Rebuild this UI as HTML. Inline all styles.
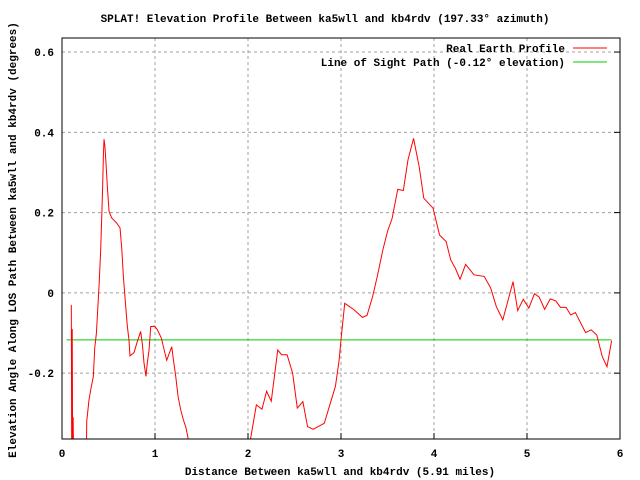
<!DOCTYPE html>
<html><head><meta charset="utf-8"><style>
body{margin:0;background:#fff}
svg{display:block}
text{font-family:"Liberation Mono",monospace;font-size:11px;font-weight:bold;fill:#000}
</style></head><body>
<svg id="c" width="640" height="480">
<text x="325" y="22" text-anchor="middle">SPLAT! Elevation Profile Between ka5wll and kb4rdv (197.33° azimuth)</text>
<text x="340" y="475" text-anchor="middle">Distance Between ka5wll and kb4rdv (5.91 miles)</text>
<text transform="translate(16,240) rotate(-90)" text-anchor="middle">Elevation Angle Along LOS Path Between ka5wll and kb4rdv (degrees)</text>
<g id="grid"></g><g id="ticks"></g>
<defs><clipPath id="clip"><rect x="62" y="38" width="558" height="401"/></clipPath></defs>
<g id="series" clip-path="url(#clip)"></g>
<rect x="62" y="38" width="558" height="401" fill="none" stroke="#000" stroke-width="1"/>
<g>
<text x="565" y="52" text-anchor="end">Real Earth Profile</text>
<line x1="573" y1="48" x2="607" y2="48" stroke="#f00"/>
<text x="565" y="66" text-anchor="end">Line of Sight Path (-0.12° elevation)</text>
<line x1="573" y1="62" x2="607" y2="62" stroke="#0c0"/>
</g>
</svg>
<script>
const profileDist=[0.10,0.105,0.11,0.115,0.12,0.125,0.26,0.266,0.29,0.31,0.337,0.352,0.37,0.40,0.416,0.427,0.437,0.445,0.452,0.462,0.473,0.49,0.506,0.534,0.588,0.624,0.642,0.66,0.685,0.703,0.72,0.731,0.774,0.81,0.846,0.865,0.882,0.903,0.917,0.936,0.954,0.997,1.026,1.069,1.09,1.126,1.18,1.198,1.223,1.248,1.276,1.305,1.333,1.355,1.40,2.0,2.03,2.09,2.15,2.20,2.25,2.32,2.36,2.42,2.48,2.53,2.59,2.64,2.70,2.82,2.89,2.94,2.98,3.0,3.04,3.14,3.23,3.28,3.34,3.39,3.45,3.50,3.55,3.61,3.67,3.72,3.78,3.84,3.89,3.99,4.06,4.13,4.18,4.23,4.28,4.34,4.43,4.54,4.61,4.67,4.74,4.85,4.90,4.96,5.02,5.08,5.13,5.19,5.25,5.31,5.36,5.42,5.47,5.52,5.63,5.69,5.75,5.81,5.86,5.91];
const profileAngle=[-0.03,-0.45,-0.09,-0.45,-0.31,-0.45,-0.45,-0.32,-0.267,-0.24,-0.208,-0.137,-0.10,0.025,0.107,0.187,0.264,0.343,0.383,0.364,0.323,0.256,0.203,0.187,0.174,0.162,0.112,0.041,-0.034,-0.084,-0.117,-0.157,-0.149,-0.121,-0.096,-0.13,-0.175,-0.208,-0.175,-0.142,-0.084,-0.083,-0.092,-0.113,-0.134,-0.168,-0.134,-0.167,-0.208,-0.258,-0.291,-0.316,-0.336,-0.361,-0.45,-0.45,-0.36,-0.279,-0.29,-0.245,-0.27,-0.142,-0.154,-0.154,-0.2,-0.287,-0.271,-0.333,-0.34,-0.325,-0.271,-0.233,-0.167,-0.117,-0.026,-0.042,-0.061,-0.056,-0.009,0.041,0.107,0.153,0.186,0.258,0.255,0.331,0.385,0.315,0.236,0.211,0.144,0.128,0.082,0.061,0.034,0.071,0.045,0.041,0.012,-0.034,-0.067,0.028,-0.044,-0.016,-0.038,-0.002,-0.01,-0.041,-0.015,-0.02,-0.036,-0.036,-0.055,-0.049,-0.099,-0.092,-0.105,-0.159,-0.184,-0.119];
const losDist=[0.05,5.91];
const losAngle=[-0.117,-0.117];
const xTicks=[0,1,2,3,4,5,6];
const yTicks=[-0.2,0,0.2,0.4,0.6];
const yTickLabels=["-0.2","0","0.2","0.4","0.6"];
const X0=62,X1=620,Y0=439,Y1=38,XMIN=0,XMAX=6,YMIN=-0.364,YMAX=0.635;
const sx=d=>X0+(d-XMIN)/(XMAX-XMIN)*(X1-X0);
const sy=v=>Y0-(v-YMIN)/(YMAX-YMIN)*(Y0-Y1);
const NS="http://www.w3.org/2000/svg";
function mk(t,a,p){const e=document.createElementNS(NS,t);for(const k in a)e.setAttribute(k,a[k]);p.appendChild(e);return e;}
const grid=document.getElementById('grid'),ticks=document.getElementById('ticks'),series=document.getElementById('series');
xTicks.forEach((t,i)=>{const x=sx(t);
 if(i>0&&i<xTicks.length-1){const g=mk('line',{x1:x,x2:x,y1:Y1,y2:Y0,stroke:'#a0a0a0','stroke-dasharray':'3,3'},grid);
 
 }
 const tk=mk('line',{x1:x,x2:x,y1:Y0,y2:Y0-6,stroke:'#000'},ticks);
 
 
 const tx=mk('text',{x:x,y:457,'text-anchor':'middle'},ticks);tx.textContent=String(t);
 
 });
yTicks.forEach((t,i)=>{const y=sy(t);
 const g=mk('line',{x1:X0,x2:X1,y1:y,y2:y,stroke:'#a0a0a0','stroke-dasharray':'3,3'},grid);
 
 
 const tk=mk('line',{x1:X1-6,x2:X1,y1:y,y2:y,stroke:'#000'},ticks);
 
 
 const tx=mk('text',{x:54,y:y+4,'text-anchor':'end'},ticks);tx.textContent=yTickLabels[i];
 
 });
const los=mk('polyline',{points:losDist.map((d,i)=>sx(d)+','+sy(losAngle[i])).join(' '),fill:'none',stroke:'#0c0','stroke-width':1},series);


const prof=mk('polyline',{points:profileDist.map((d,i)=>sx(d)+','+sy(profileAngle[i])).join(' '),fill:'none',stroke:'#f00','stroke-width':1},series);


</script>
</body></html>
